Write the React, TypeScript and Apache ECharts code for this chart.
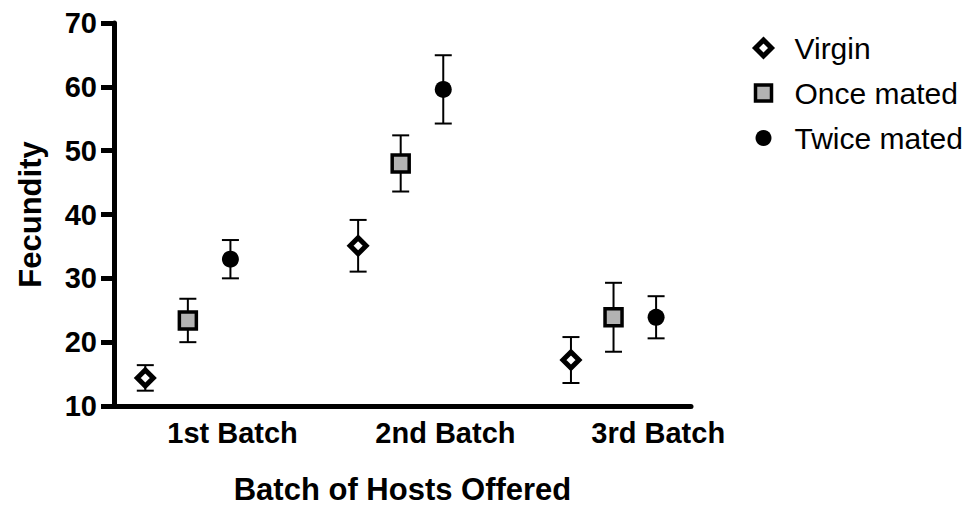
import React, { useEffect, useRef } from "react";
import * as echarts from "echarts";

// ---- data ----
const categories = ["1st Batch", "2nd Batch", "3rd Batch"];
const seriesNames = ["Virgin", "Once mated", "Twice mated"];
const virginMean = [14.4, 35.1, 17.2];
const virginErr = [2.0, 4.05, 3.6];
const onceMean = [23.4, 48.0, 23.9];
const onceErr = [3.4, 4.4, 5.4];
const twiceMean = [33.0, 59.6, 23.9];
const twiceErr = [3.0, 5.35, 3.3];
const yTicks = [10, 20, 30, 40, 50, 60, 70];

// ---- layout / style ----
const FONT = "'Liberation Sans', Arial, Helvetica, sans-serif";
const GROUP_OFFSETS = [-0.2, 0, 0.2];
const LABEL_SHIFT = 0.21;
const X_MIN = 0.653;
const X_MAX = 3.364;
const CAP_HALF = 8.5;

const means = [virginMean, onceMean, twiceMean];
const errs = [virginErr, onceErr, twiceErr];

const markerStyles: any[] = [
  { symbol: "diamond", symbolSize: 16, itemStyle: { color: "#ffffff", borderColor: "#000000", borderWidth: 5, opacity: 1 } },
  { symbol: "rect", symbolSize: 17, itemStyle: { color: "#b3b3b3", borderColor: "#000000", borderWidth: 3.5, opacity: 1 } },
  { symbol: "circle", symbolSize: 17, itemStyle: { color: "#000000", borderWidth: 0, opacity: 1 } },
];

function xPos(groupIndex: number, seriesIndex: number) {
  return groupIndex + 1 + GROUP_OFFSETS[seriesIndex];
}

export default function App() {
  const ref = useRef<HTMLDivElement>(null);

  useEffect(() => {
    if (!ref.current) return;
    const chart = echarts.init(ref.current, undefined, { renderer: "svg" });

    const errorSeries = seriesNames.map((name, s) => ({
      name: name + " error",
      type: "custom",
      z: 2,
      silent: true,
      data: categories.map((_, g) => [xPos(g, s), means[s][g] - errs[s][g], means[s][g] + errs[s][g]]),
      renderItem: (_params: any, api: any) => {
        const x = api.value(0);
        const top = api.coord([x, api.value(2)]);
        const bot = api.coord([x, api.value(1)]);
        const st = { stroke: "#000", lineWidth: 2 };
        return {
          type: "group",
          children: [
            { type: "line", shape: { x1: top[0], y1: top[1], x2: bot[0], y2: bot[1] }, style: st },
            { type: "line", shape: { x1: top[0] - CAP_HALF, y1: top[1], x2: top[0] + CAP_HALF, y2: top[1] }, style: st },
            { type: "line", shape: { x1: bot[0] - CAP_HALF, y1: bot[1], x2: bot[0] + CAP_HALF, y2: bot[1] }, style: st },
          ],
        };
      },
    }));

    const pointSeries = seriesNames.map((name, s) => ({
      name,
      type: "scatter",
      z: 3,
      symbol: markerStyles[s].symbol,
      symbolSize: markerStyles[s].symbolSize,
      itemStyle: markerStyles[s].itemStyle,
      emphasis: { disabled: true },
      data: categories.map((_, g) => [xPos(g, s), means[s][g]]),
    }));

    chart.setOption({
      animation: false,
      backgroundColor: "#ffffff",
      textStyle: { fontFamily: FONT },
      grid: { left: 114, top: 23, right: 279, bottom: 104, containLabel: false },
      legend: {
        orient: "vertical",
        left: 748,
        top: 28,
        itemWidth: 16,
        itemHeight: 16,
        itemGap: 15,
        selectedMode: false,
        data: seriesNames.map((name, s) => ({ name, itemStyle: markerStyles[s].itemStyle })),
        textStyle: { fontSize: 30, color: "#000", fontFamily: FONT, lineHeight: 30, padding: [0, 0, 0, 18] },
      },
      xAxis: {
        type: "value",
        min: X_MIN,
        max: X_MAX,
        name: "Batch of Hosts Offered",
        nameLocation: "middle",
        nameGap: 68,
        nameTextStyle: { fontSize: 31, fontWeight: "bold", color: "#000", fontFamily: FONT },
        axisLine: { show: true, onZero: false, lineStyle: { color: "#000", width: 5 } },
        axisTick: { show: false },
        splitLine: { show: false },
        axisLabel: {
          customValues: categories.map((_, g) => g + 1 + LABEL_SHIFT),
          formatter: (v: number) => categories[Math.round(v - LABEL_SHIFT) - 1] ?? "",
          fontSize: 29,
          fontWeight: "bold",
          color: "#000",
          fontFamily: FONT,
          margin: 12,
        },
      },
      yAxis: {
        type: "value",
        min: yTicks[0],
        max: yTicks[yTicks.length - 1],
        interval: yTicks[1] - yTicks[0],
        name: "Fecundity",
        nameLocation: "middle",
        nameRotate: 90,
        nameGap: 68,
        nameTextStyle: { fontSize: 31, fontWeight: "bold", color: "#000", fontFamily: FONT },
        axisLine: { show: true, lineStyle: { color: "#000", width: 5 } },
        axisTick: { show: true, length: 13, lineStyle: { color: "#000", width: 5 } },
        splitLine: { show: false },
        axisLabel: { fontSize: 29, fontWeight: "bold", color: "#000", fontFamily: FONT, margin: 17 },
      },
      series: [...errorSeries, ...pointSeries],
    });

    return () => chart.dispose();
  }, []);

  return (
    <div
      ref={ref}
      style={{ position: "fixed", left: 0, top: 0, width: 970, height: 510, background: "#fff" }}
    />
  );
}
